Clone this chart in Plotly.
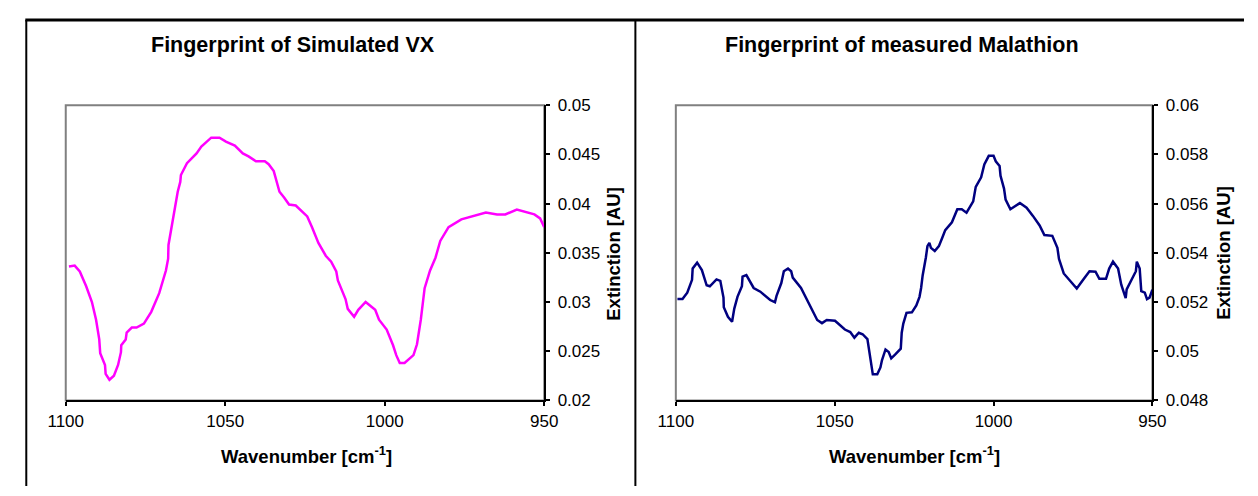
import plotly.graph_objects as go

# ---------------- data ----------------
vx_wavenumber = [
    1099.0, 1097.2, 1095.6, 1093.6, 1091.8, 1090.5, 1089.5, 1089.2, 1087.7, 1087.5,
    1086.3, 1084.9, 1083.6, 1082.7, 1082.6, 1081.2, 1080.9, 1079.3, 1077.8, 1075.5,
    1073.2, 1070.7, 1068.6, 1067.9, 1067.8, 1066.6, 1065.6, 1064.9, 1064.1, 1063.9,
    1062.0, 1059.0, 1057.5, 1054.4, 1051.8, 1049.8, 1047.0, 1044.5, 1042.7, 1040.4,
    1037.6, 1036.4, 1034.8, 1033.0, 1031.5, 1030.0, 1027.9, 1024.3, 1022.8, 1020.8,
    1018.5, 1016.8, 1015.2, 1014.7, 1012.3, 1011.6, 1009.6, 1008.3, 1006.0, 1003.0,
    1001.8, 999.4, 997.4, 996.4, 995.3, 993.8, 991.0, 989.9, 988.7, 987.5,
    985.8, 984.1, 982.6, 980.0, 976.0, 968.3, 964.8, 962.2, 958.6, 956.1,
    953.1, 951.3, 950.0,
]
vx_extinction = [
    0.0336, 0.0337, 0.0331, 0.0316, 0.0300, 0.0282, 0.0262, 0.0248, 0.0236, 0.0227,
    0.0221, 0.0225, 0.0236, 0.0249, 0.0256, 0.0262, 0.0269, 0.0274, 0.0274, 0.0278,
    0.0290, 0.0309, 0.0332, 0.0344, 0.0358, 0.0380, 0.0397, 0.0412, 0.0422, 0.0429,
    0.0441, 0.0451, 0.0458, 0.0467, 0.0467, 0.0463, 0.0459, 0.0451, 0.0448, 0.0443,
    0.0443, 0.0440, 0.0433, 0.0412, 0.0406, 0.0399, 0.0398, 0.0387, 0.0376, 0.0360,
    0.0347, 0.0341, 0.0331, 0.0322, 0.0303, 0.0293, 0.0285, 0.0292, 0.0300, 0.0292,
    0.0282, 0.0272, 0.0256, 0.0246, 0.0238, 0.0238, 0.0246, 0.0257, 0.0282, 0.0314,
    0.0332, 0.0345, 0.0362, 0.0376, 0.0384, 0.0391, 0.0389, 0.0389, 0.0394, 0.0392,
    0.0389, 0.0385, 0.0376,
]

mal_wavenumber = [
    1099.5, 1097.9, 1096.4, 1094.9, 1094.7, 1093.3, 1091.8, 1090.3, 1089.3, 1087.2,
    1086.0, 1085.0, 1084.9, 1083.6, 1082.3, 1081.6, 1080.6, 1079.2, 1079.0, 1077.8,
    1075.5, 1073.4, 1070.3, 1068.8, 1068.3, 1066.8, 1066.0, 1064.7, 1063.7, 1063.2,
    1060.6, 1057.6, 1055.5, 1054.0, 1052.5, 1049.9, 1046.8, 1045.1, 1043.8, 1042.4,
    1041.2, 1039.7, 1039.0, 1038.4, 1038.0, 1036.6, 1035.6, 1035.1, 1034.0, 1033.0,
    1032.2, 1031.0, 1029.2, 1028.9, 1028.4, 1027.4, 1025.7, 1024.3, 1023.3, 1022.8,
    1022.3, 1021.3, 1020.8, 1020.2, 1019.7, 1018.5, 1017.2, 1016.2, 1015.2, 1013.1,
    1011.4, 1010.0, 1008.5, 1006.4, 1005.6, 1003.9, 1002.9, 1001.5, 1000.0, 999.3,
    998.1, 997.8, 996.7, 996.2, 994.7, 991.7, 989.6, 987.6, 985.5, 984.0,
    981.5, 979.9, 979.4, 977.9, 975.8, 973.8, 971.8, 969.8, 967.9, 966.7,
    964.6, 963.6, 962.4, 960.8, 959.8, 958.4, 958.1, 956.5, 955.2, 954.9,
    954.0, 953.5, 952.4, 951.7, 950.9, 950.0,
]
mal_extinction = [
    0.05212, 0.05212, 0.05238, 0.05290, 0.05336, 0.05360, 0.05330, 0.05268, 0.05264, 0.05292,
    0.05286, 0.05218, 0.05179, 0.05140, 0.05120, 0.05173, 0.05221, 0.05264, 0.05303, 0.05309,
    0.05257, 0.05242, 0.05208, 0.05199, 0.05225, 0.05277, 0.05325, 0.05336, 0.05325, 0.05299,
    0.05257, 0.05179, 0.05127, 0.05114, 0.05127, 0.05124, 0.05088, 0.05078, 0.05055, 0.05075,
    0.05069, 0.05049, 0.04990, 0.04958, 0.04906, 0.04906, 0.04934, 0.04964, 0.05007, 0.04997,
    0.04971, 0.04986, 0.05010, 0.05075, 0.05112, 0.05156, 0.05158, 0.05186, 0.05221, 0.05257,
    0.05309, 0.05381, 0.05427, 0.05440, 0.05420, 0.05407, 0.05427, 0.05459, 0.05492, 0.05524,
    0.05577, 0.05577, 0.05563, 0.05609, 0.05668, 0.05707, 0.05759, 0.05794, 0.05794, 0.05772,
    0.05753, 0.05713, 0.05661, 0.05616, 0.05577, 0.05602, 0.05583, 0.05550, 0.05511, 0.05472,
    0.05469, 0.05420, 0.05375, 0.05316, 0.05286, 0.05255, 0.05290, 0.05325, 0.05323, 0.05294,
    0.05294, 0.05336, 0.05364, 0.05336, 0.05270, 0.05216, 0.05251, 0.05290, 0.05325, 0.05364,
    0.05336, 0.05244, 0.05238, 0.05212, 0.05218, 0.05250,
]

x_tick_vals = [1100, 1050, 1000, 950]
x_tick_text = ["1100", "1050", "1000", "950"]
vx_y_tick_vals = [0.02, 0.025, 0.03, 0.035, 0.04, 0.045, 0.05]
vx_y_tick_text = ["0.02", "0.025", "0.03", "0.035", "0.04", "0.045", "0.05"]
mal_y_tick_vals = [0.048, 0.05, 0.052, 0.054, 0.056, 0.058, 0.06]
mal_y_tick_text = ["0.048", "0.05", "0.052", "0.054", "0.056", "0.058", "0.06"]

title_left = "Fingerprint of Simulated VX"
title_right = "Fingerprint of measured Malathion"
x_title = "Wavenumber [cm<sup>-1</sup>]"
y_title = "Extinction [AU]"

# ---------------- figure ----------------
W, H = 1258, 496
FONT = "Liberation Sans, Arial, sans-serif"

def px_x(p):
    return p / W

def px_y(p):
    return 1 - p / H

fig = go.Figure()
fig.add_trace(go.Scatter(x=vx_wavenumber, y=vx_extinction, mode="lines",
                         line=dict(color="#FF00FF", width=2.5), xaxis="x", yaxis="y",
                         showlegend=False, hoverinfo="skip"))
fig.add_trace(go.Scatter(x=mal_wavenumber, y=mal_extinction, mode="lines",
                         line=dict(color="#000080", width=2.5), xaxis="x2", yaxis="y2",
                         showlegend=False, hoverinfo="skip"))

ydom = [px_y(407), px_y(100)]
common_x = dict(range=[1100, 950], tickvals=x_tick_vals, ticktext=x_tick_text,
                ticks="outside", ticklen=4, tickwidth=2, tickcolor="black",
                showline=True, linecolor="black", linewidth=2, showgrid=False,
                zeroline=False, tickfont=dict(family=FONT, size=17, color="black"))
common_y = dict(side="right", ticks="outside", ticklen=4, tickwidth=2, tickcolor="black",
                showline=True, linecolor="black", linewidth=2, showgrid=False,
                zeroline=False, domain=ydom, ticklabelstandoff=4,
                tickfont=dict(family=FONT, size=17, color="black"))

fig.update_layout(
    width=W, height=H, autosize=False,
    margin=dict(l=0, r=0, t=0, b=0),
    paper_bgcolor="white", plot_bgcolor="white",
    xaxis=dict(domain=[px_x(49), px_x(540)], anchor="y", **common_x),
    yaxis=dict(anchor="x", range=[0.02, 0.05], tickvals=vx_y_tick_vals,
               ticktext=vx_y_tick_text, **common_y),
    xaxis2=dict(domain=[px_x(675), px_x(1164)], anchor="y2", **common_x),
    yaxis2=dict(anchor="x2", range=[0.048, 0.06], tickvals=mal_y_tick_vals,
                ticktext=mal_y_tick_text, **common_y),
)

shapes = []
# gray plot-area borders (left / top)
for xr, yr in (("x domain", "y domain"), ("x2 domain", "y2 domain")):
    shapes.append(dict(type="rect", xref=xr, yref=yr, x0=0, x1=1, y0=0, y1=1,
                       line=dict(color="#808080", width=2), layer="below"))
# outer chart frames
shapes.append(dict(type="line", xref="paper", yref="paper", x0=px_x(8.5), x1=px_x(8.5),
                   y0=0, y1=px_y(11.5), line=dict(color="black", width=2)))
shapes.append(dict(type="line", xref="paper", yref="paper", x0=px_x(7.5), x1=1,
                   y0=px_y(11.5), y1=px_y(11.5), line=dict(color="black", width=3)))
shapes.append(dict(type="line", xref="paper", yref="paper", x0=px_x(633.5), x1=px_x(633.5),
                   y0=0, y1=px_y(11.5), line=dict(color="black", width=2)))
fig.update_layout(shapes=shapes)

annotations = []
def ann(text, x, y, size, angle=0):
    annotations.append(dict(text=text, x=px_x(x), y=px_y(y), xref="paper", yref="paper",
                            xanchor="center", yanchor="middle", showarrow=False,
                            textangle=angle,
                            font=dict(family=FONT, size=size, color="black")))

ann("<b>" + title_left + "</b>", 282, 37, 21.5)
ann("<b>" + title_right + "</b>", 907, 37, 21.5)
ann("<b>" + x_title + "</b>", 296, 464, 18.5)
ann("<b>" + x_title + "</b>", 920, 464, 18.5)
ann("<b>" + y_title + "</b>", 611, 254, 18.5, -90)
ann("<b>" + y_title + "</b>", 1237, 254, 18.5, -90)
fig.update_layout(annotations=annotations)

fig.write_html("out.html")
